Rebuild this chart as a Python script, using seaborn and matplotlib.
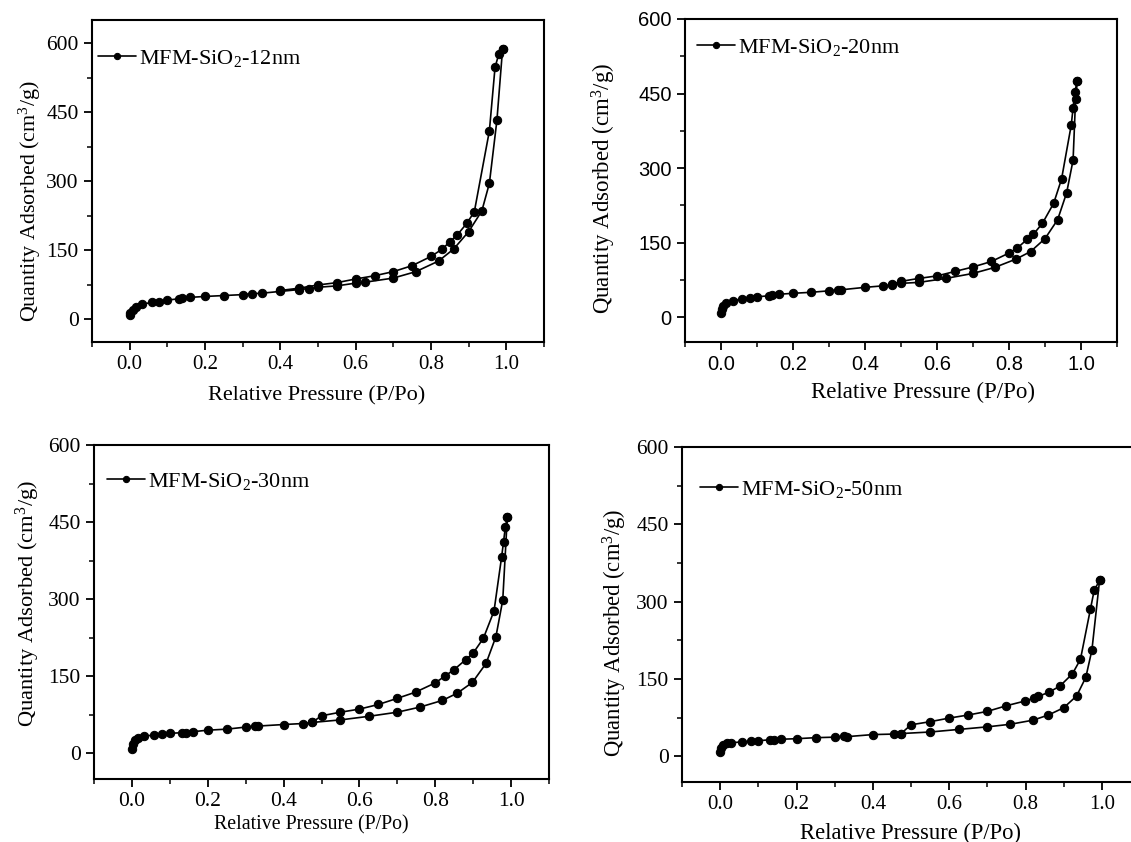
import pandas as pd
import matplotlib
matplotlib.use('Agg')
import matplotlib.pyplot as plt
import seaborn as sns
from matplotlib.ticker import MultipleLocator

# --- data (P/Po, cm3/g) ---
ads_p_12 = [0.0, 0.002, 0.008, 0.016, 0.032, 0.058, 0.078, 0.10, 0.13, 0.14, 0.16, 0.20, 0.25, 0.30,
            0.325, 0.35, 0.40, 0.45, 0.475, 0.50, 0.55, 0.60, 0.625, 0.70, 0.76, 0.82, 0.86, 0.90,
            0.935, 0.955, 0.975, 0.99]
ads_q_12 = [9, 14, 20, 27, 32, 36, 38, 41, 44, 45, 47, 49, 51, 53, 55, 56, 60, 64, 66, 69, 72, 78,
            80, 89, 103, 126, 152, 190, 235, 295, 432, 587]
des_p_12 = [0.99, 0.98, 0.97, 0.955, 0.915, 0.895, 0.87, 0.85, 0.83, 0.80, 0.75, 0.70, 0.65, 0.60,
            0.55, 0.50, 0.45, 0.40]
des_q_12 = [587, 576, 547, 409, 233, 208, 183, 168, 152, 136, 116, 103, 94, 87, 79, 74, 67, 62]

ads_p_20 = [0.0, 0.002, 0.006, 0.015, 0.033, 0.058, 0.08, 0.10, 0.133, 0.143, 0.16, 0.20, 0.25, 0.30,
            0.325, 0.333, 0.40, 0.45, 0.475, 0.50, 0.55, 0.625, 0.70, 0.76, 0.82, 0.86, 0.90, 0.935,
            0.96, 0.978, 0.985, 0.99]
ads_q_20 = [8, 16, 23, 29, 33, 37, 39, 41, 43, 44, 46, 48, 50, 53, 55, 55, 60, 63, 65, 68, 70, 78,
            88, 100, 117, 132, 158, 196, 250, 316, 440, 476]
des_p_20 = [0.99, 0.983, 0.978, 0.973, 0.946, 0.924, 0.893, 0.868, 0.851, 0.823, 0.80, 0.751, 0.70,
            0.65, 0.60, 0.55, 0.50, 0.475]
des_q_20 = [476, 454, 421, 387, 278, 229, 189, 167, 157, 139, 129, 112, 101, 92, 83, 78, 72, 66]

ads_p_30 = [0.0, 0.002, 0.008, 0.017, 0.033, 0.058, 0.08, 0.10, 0.132, 0.142, 0.16, 0.20, 0.25, 0.30,
            0.325, 0.332, 0.40, 0.452, 0.475, 0.55, 0.625, 0.70, 0.76, 0.819, 0.858, 0.898, 0.934,
            0.96, 0.978, 0.99]
ads_q_30 = [8, 18, 25, 29, 33, 36, 38, 39, 40, 40, 42, 45, 47, 51, 53, 53, 56, 58, 60, 65, 72, 80,
            90, 103, 117, 138, 175, 227, 298, 459]
des_p_30 = [0.99, 0.985, 0.98, 0.975, 0.955, 0.927, 0.90, 0.88, 0.85, 0.825, 0.80, 0.748, 0.70,
            0.65, 0.60, 0.55, 0.50, 0.475]
des_q_30 = [459, 441, 411, 382, 277, 224, 195, 182, 163, 150, 137, 119, 107, 95, 86, 80, 73, 60]

ads_p_50 = [0.0, 0.003, 0.008, 0.017, 0.029, 0.058, 0.08, 0.10, 0.13, 0.14, 0.16, 0.20, 0.25, 0.30,
            0.325, 0.332, 0.40, 0.455, 0.474, 0.55, 0.625, 0.70, 0.76, 0.82, 0.86, 0.90, 0.934,
            0.958, 0.974, 0.994]
ads_q_50 = [8, 16, 21, 25, 26, 28, 29, 30, 32, 31, 33, 34, 36, 37, 39, 38, 42, 43, 44, 47, 52, 57,
            62, 70, 80, 94, 117, 153, 206, 341]
des_p_50 = [0.994, 0.98, 0.97, 0.944, 0.923, 0.89, 0.861, 0.833, 0.823, 0.798, 0.75, 0.70, 0.65,
            0.60, 0.55, 0.50, 0.474]
des_q_50 = [341, 322, 285, 188, 160, 136, 124, 116, 113, 107, 98, 87, 80, 74, 67, 61, 44]

labels = ['MFM-SiO$\\mathregular{_2}$-12nm', 'MFM-SiO$\\mathregular{_2}$-20nm',
          'MFM-SiO$\\mathregular{_2}$-30nm', 'MFM-SiO$\\mathregular{_2}$-50nm']

sns.set_style('ticks')
plt.rcParams['font.family'] = ['Liberation Serif', 'DejaVu Serif']
plt.rcParams['mathtext.fontset'] = 'custom'
plt.rcParams['mathtext.rm'] = 'Liberation Serif'
plt.rcParams['mathtext.it'] = 'Liberation Serif:italic'
for key in ['text.color', 'axes.labelcolor', 'xtick.color', 'ytick.color']:
    plt.rcParams[key] = 'black'

fig = plt.figure(figsize=(11.31, 8.42), dpi=100)
W, H = 1131, 842

# panel boxes in pixels: left, right, top, bottom (last one runs past the right edge)
boxes = [(92, 544, 20, 342), (685, 1117, 19, 342), (94, 549, 445, 779), (682, 1140, 447, 782)]
ylims = [(-50, 650), (-50, 600), (-50, 600), (-50, 600)]
series = [(ads_p_12, ads_q_12, des_p_12, des_q_12), (ads_p_20, ads_q_20, des_p_20, des_q_20),
          (ads_p_30, ads_q_30, des_p_30, des_q_30), (ads_p_50, ads_q_50, des_p_50, des_q_50)]
xtick_size = [15, 14.5, 15.5, 15]
ytick_size = [15.5, 14.5, 15.5, 15.5]
xlab_size = [16, 16.5, 14.3, 16.3]
ylab_size = [15.8, 16.5, 16.2, 16.3]
xlab_pos = [(0.498, -0.137), (0.551, -0.122), (0.477, -0.108), (0.498, -0.122)]
ylab_pos = [(-0.108, 0.438), (-0.154, 0.477), (-0.114, 0.524), (-0.116, 0.445)]
leg_anchor = [(0.013, 0.913), (0.028, 0.944), (0.029, 0.922), (0.039, 0.904)]

for i in range(4):
    l, r, t, b = boxes[i]
    ax = fig.add_axes([l / W, 1 - b / H, (r - l) / W, (b - t) / H])
    ap, aq, dp, dq = series[i]
    df = pd.DataFrame({'p': ap + dp, 'q': aq + dq})
    sns.lineplot(data=df, x='p', y='q', sort=False, estimator=None, ax=ax, color='black',
                 marker='o', markersize=6, markeredgecolor='black', linewidth=1.2, label=labels[i])
    ax.set_xlim(-0.1, 1.1)
    ax.set_ylim(*ylims[i])
    ax.set_xticks([0.0, 0.2, 0.4, 0.6, 0.8, 1.0])
    ax.set_yticks([0, 150, 300, 450, 600])
    ax.xaxis.set_minor_locator(MultipleLocator(0.1))
    ax.yaxis.set_minor_locator(MultipleLocator(75))
    ax.tick_params(which='major', direction='out', length=6, width=1.3, top=False, right=False)
    ax.tick_params(which='minor', direction='out', length=3.5, width=1.1, top=False, right=False)
    ax.tick_params(axis='x', labelsize=xtick_size[i])
    ax.tick_params(axis='y', labelsize=ytick_size[i])
    for s in ax.spines.values():
        s.set_linewidth(1.5)
        s.set_color('black')
    if i == 1:
        for lab in ax.get_xticklabels() + ax.get_yticklabels():
            lab.set_fontfamily('Liberation Sans')
    ax.set_xlabel('Relative Pressure (P/Po)', fontsize=xlab_size[i])
    ax.set_ylabel('Quantity Adsorbed (cm$^3$/g)', fontsize=ylab_size[i])
    ax.xaxis.set_label_coords(*xlab_pos[i])
    ax.yaxis.set_label_coords(*ylab_pos[i])
    ax.legend(loc='upper left', bbox_to_anchor=leg_anchor[i], frameon=False, fontsize=16,
              handlelength=1.7, handletextpad=0.15, borderaxespad=0, borderpad=0,
              markerscale=0.75)

fig.savefig('out.png', dpi=100)
